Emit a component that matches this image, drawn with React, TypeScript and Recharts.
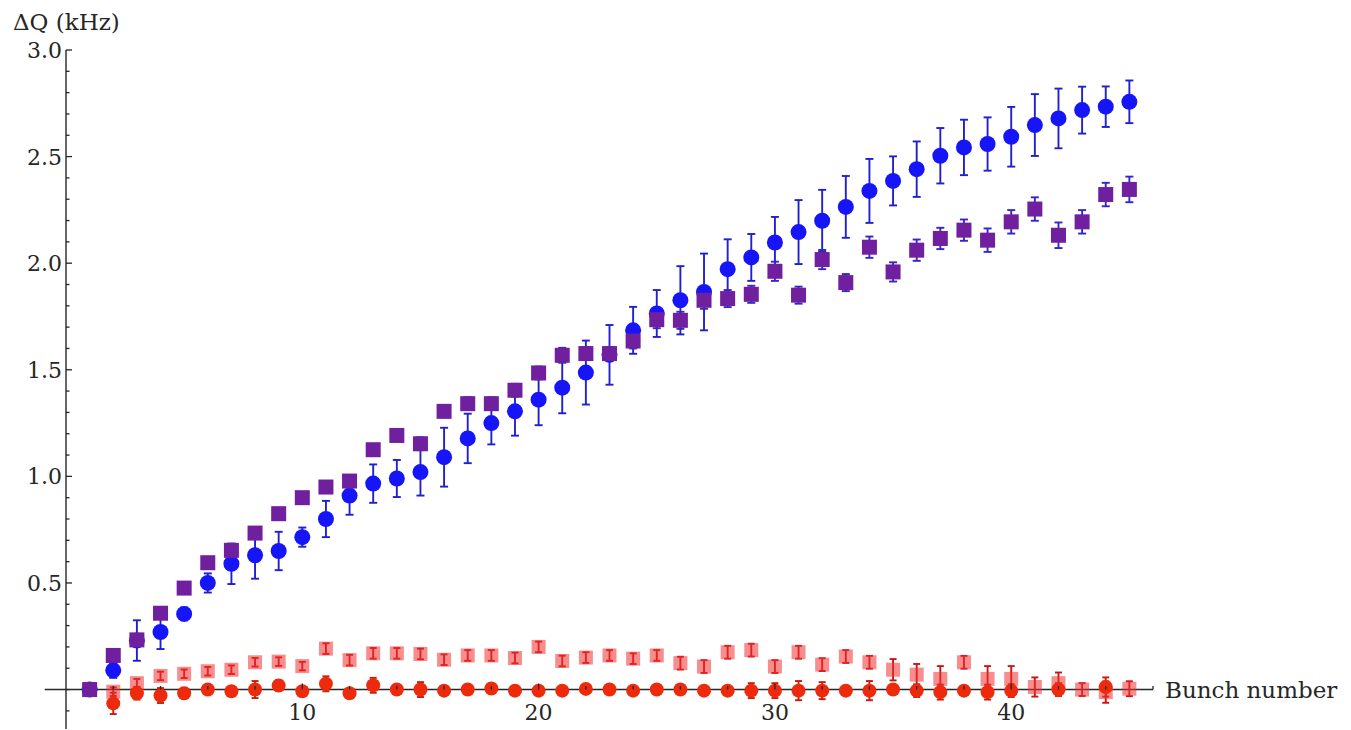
import { ScatterChart, Scatter, XAxis, YAxis, ErrorBar, ReferenceLine } from "recharts";

// bunch index along the train
const BUNCH = [
  1, 2, 3, 4, 5, 6, 7, 8, 9, 10, 11, 12, 13, 14, 15, 16, 17, 18, 19, 20, 21, 22, 23,
  24, 25, 26, 27, 28, 29, 30, 31, 32, 33, 34, 35, 36, 37, 38, 39, 40, 41, 42, 43, 44, 45,
];

// blue circles
const BLUE_DQ = [
  0, 0.09, 0.23, 0.27, 0.355, 0.5, 0.59, 0.63, 0.65, 0.715, 0.8, 0.91, 0.966, 0.99, 1.02,
  1.09, 1.178, 1.25, 1.305, 1.36, 1.416, 1.487, 1.57, 1.685, 1.764, 1.826, 1.865, 1.972,
  2.027, 2.097, 2.146, 2.199, 2.264, 2.339, 2.386, 2.441, 2.504, 2.543, 2.559, 2.593, 2.648,
  2.679, 2.718, 2.734, 2.757,
];
const BLUE_ERR = [
  0, 0.035, 0.095, 0.08, 0.03, 0.045, 0.095, 0.11, 0.09, 0.045, 0.085, 0.09, 0.09, 0.087,
  0.11, 0.138, 0.116, 0.1, 0.114, 0.12, 0.12, 0.15, 0.14, 0.11, 0.11, 0.16, 0.18, 0.14, 0.11,
  0.12, 0.15, 0.145, 0.145, 0.15, 0.115, 0.13, 0.13, 0.13, 0.125, 0.14, 0.145, 0.14, 0.11,
  0.095, 0.1,
];

// purple squares
const PURPLE_DQ = [
  0, 0.16, 0.233, 0.358, 0.476, 0.595, 0.653, 0.734, 0.825, 0.9, 0.95, 0.978, 1.125, 1.192,
  1.153, 1.305, 1.341, 1.341, 1.404, 1.485, 1.568, 1.576, 1.576, 1.635, 1.735, 1.732, 1.826,
  1.834, 1.854, 1.962, 1.85, 2.017, 1.909, 2.075, 1.959, 2.061, 2.116, 2.155, 2.108, 2.194,
  2.254, 2.131, 2.194, 2.322, 2.346,
];
const PURPLE_ERR = [
  0, 0.02, 0.02, 0.02, 0.02, 0.02, 0.02, 0.02, 0.02, 0.02, 0.02, 0.025, 0.025, 0.025, 0.03,
  0.025, 0.03, 0.03, 0.03, 0.03, 0.035, 0.03, 0.03, 0.035, 0.04, 0.04, 0.04, 0.04, 0.04,
  0.045, 0.04, 0.045, 0.04, 0.05, 0.045, 0.05, 0.05, 0.05, 0.055, 0.055, 0.055, 0.06, 0.055,
  0.055, 0.06,
];

// light red squares
const PINK_DQ = [
  null, -0.01, 0.03, 0.064, 0.074, 0.086, 0.093, 0.128, 0.131, 0.11, 0.192, 0.138, 0.17,
  0.17, 0.167, 0.14, 0.16, 0.16, 0.148, 0.2, 0.134, 0.15, 0.16, 0.145, 0.16, 0.124, 0.108,
  0.175, 0.185, 0.108, 0.175, 0.117, 0.155, 0.128, 0.093, 0.07, 0.05, 0.128, 0.05, 0.05,
  0.012, 0.03, 0, -0.012, 0.004,
];
const PINK_ERR = [
  0, 0.02, 0.02, 0.02, 0.02, 0.02, 0.02, 0.02, 0.02, 0.02, 0.025, 0.025, 0.025, 0.025, 0.025,
  0.025, 0.025, 0.025, 0.025, 0.025, 0.025, 0.025, 0.025, 0.025, 0.025, 0.03, 0.03, 0.03,
  0.03, 0.03, 0.03, 0.03, 0.03, 0.03, 0.05, 0.05, 0.06, 0.03, 0.06, 0.06, 0.045, 0.05, 0.03,
  0.05, 0.035,
];

// red circles
const RED_DQ = [
  null, -0.065, -0.017, -0.028, -0.017, 0, -0.008, 0, 0.019, -0.008, 0.027, -0.017, 0.02, 0,
  0, -0.005, 0, 0.005, -0.005, -0.005, -0.005, 0.003, 0, -0.005, 0, 0, -0.005, -0.005,
  -0.005, -0.005, -0.005, -0.005, -0.005, -0.005, 0, -0.005, -0.012, -0.005, -0.012, -0.005,
  null, 0, null, 0.012, null,
];
const RED_ERR = [
  0, 0.05, 0.03, 0.035, 0.025, 0.02, 0.02, 0.04, 0.025, 0.02, 0.035, 0.015, 0.035, 0.015,
  0.035, 0.015, 0.02, 0.02, 0.015, 0.015, 0.015, 0.02, 0.02, 0.02, 0.015, 0.015, 0.015,
  0.015, 0.035, 0.035, 0.045, 0.04, 0.02, 0.045, 0.02, 0.03, 0.035, 0.02, 0.035, 0.03, 0,
  0.03, 0, 0.045, 0,
];

const X_MAJOR = [10, 20, 30, 40];
const X_MINOR = [2, 4, 6, 8, 12, 14, 16, 18, 22, 24, 26, 28, 32, 34, 36, 38, 42, 44, 46];
const Y_LABELS = [0.5, 1, 1.5, 2, 2.5, 3];
const Y_MINOR = [
  -0.1, 0, 0.1, 0.2, 0.3, 0.4, 0.6, 0.7, 0.8, 0.9, 1.1, 1.2, 1.3, 1.4, 1.6, 1.7, 1.8, 1.9,
  2.1, 2.2, 2.3, 2.4, 2.6, 2.7, 2.8, 2.9,
];

const W = 1351;
const H = 730;
const MARGIN = { top: 50, right: 198, bottom: 0, left: 0 };
const XAXIS_H = 1;
const X_MIN = 0;
const X_MAX = 46;
const Y_MIN = -0.185;
const Y_MAX = 3;
const PLOT_H = H - MARGIN.top - MARGIN.bottom - XAXIS_H;
const ZERO_Y = MARGIN.top + (PLOT_H * Y_MAX) / (Y_MAX - Y_MIN);

const FONT = "'DejaVu Serif', serif";
const INK = "#262626";

function toPoints(values: (number | null)[], errs: number[]) {
  return BUNCH.map((x, i) => ({ x, y: values[i], err: errs[i] })).filter((p) => p.y !== null);
}

const blue = toPoints(BLUE_DQ, BLUE_ERR);
const purple = toPoints(PURPLE_DQ, PURPLE_ERR);
const pink = toPoints(PINK_DQ, PINK_ERR);
const red = toPoints(RED_DQ, RED_ERR);

// x ticks sit on the y=0 line, pointing up, like the original plot
function XTick({ x, payload }: any) {
  const major = X_MAJOR.includes(payload.value);
  return (
    <g>
      <line x1={x} x2={x} y1={ZERO_Y} y2={ZERO_Y - (major ? 6 : 3.5)} stroke={INK} strokeWidth={1.3} />
      {major && (
        <text x={x} y={ZERO_Y + 30} textAnchor="middle" fontFamily={FONT} fontSize={22} fill={INK}>
          {payload.value}
        </text>
      )}
    </g>
  );
}

function YTick({ x, y, payload }: any) {
  const v = payload.value;
  const major = Y_LABELS.includes(v);
  return (
    <g>
      <line x1={x} x2={x + (major ? 6 : 3.5)} y1={y} y2={y} stroke={INK} strokeWidth={1.3} />
      {major && (
        <text x={x - 4} y={y + 8} textAnchor="end" fontFamily={FONT} fontSize={22} fill={INK}>
          {v.toFixed(1)}
        </text>
      )}
    </g>
  );
}

const circle = (r: number, fill: string) => (p: any) => <circle cx={p.cx} cy={p.cy} r={r} fill={fill} />;
const square = (s: number, fill: string, opacity = 1) => (p: any) => (
  <rect x={p.cx - s / 2} y={p.cy - s / 2} width={s} height={s} fill={fill} fillOpacity={opacity} />
);

export default function App() {
  return (
    <div style={{ position: "absolute", left: 0, top: 0, width: W, height: H, overflow: "hidden", background: "#fff" }}>
      <ScatterChart width={W} height={H} margin={MARGIN}>
        <XAxis
          type="number"
          dataKey="x"
          domain={[X_MIN, X_MAX]}
          ticks={[...X_MINOR, ...X_MAJOR].sort((a, b) => a - b)}
          interval={0}
          height={XAXIS_H}
          axisLine={false}
          tickLine={false}
          tickSize={0}
          tickMargin={0}
          tick={(p: any) => <XTick {...p} />}
          allowDataOverflow
        />
        <YAxis
          type="number"
          dataKey="y"
          domain={[Y_MIN, Y_MAX]}
          ticks={[...Y_MINOR, ...Y_LABELS].sort((a, b) => a - b)}
          interval={0}
          width={66}
          axisLine={{ stroke: INK, strokeWidth: 1.4 }}
          tickLine={false}
          tickSize={0}
          tickMargin={0}
          tick={(p: any) => <YTick {...p} />}
          allowDataOverflow
          label={{
            content: ({ viewBox }: any) => (
              <text x={viewBox.x + 13} y={viewBox.y - 20} fontFamily={FONT} fontSize={23} fill={INK}>
                ΔQ (kHz)
              </text>
            ),
          }}
        />
        <ReferenceLine
          segment={[{ x: -0.9, y: 0 }, { x: X_MAX, y: 0 }]}
          stroke={INK}
          strokeWidth={1.5}
          ifOverflow="visible"
          label={{ value: "Bunch number", position: "right", offset: 12, fill: INK, fontSize: 23, fontFamily: FONT }}
        />
        <Scatter data={pink} shape={square(14, "#f03030", 0.55)} isAnimationActive={false}>
          <ErrorBar dataKey="err" direction="y" width={3.5} stroke="#cc1414" strokeWidth={1.9} isAnimationActive={false} />
        </Scatter>
        <Scatter data={red} shape={circle(7, "#ee2a0c")} isAnimationActive={false}>
          <ErrorBar dataKey="err" direction="y" width={3.5} stroke="#cc1a0a" strokeWidth={1.9} isAnimationActive={false} />
        </Scatter>
        <Scatter data={blue} shape={circle(8, "#1515f8")} isAnimationActive={false}>
          <ErrorBar dataKey="err" direction="y" width={4} stroke="#2020d0" strokeWidth={1.9} isAnimationActive={false} />
        </Scatter>
        <Scatter data={purple} shape={square(15, "#701f9e")} isAnimationActive={false}>
          <ErrorBar dataKey="err" direction="y" width={4} stroke="#3326cc" strokeWidth={1.9} isAnimationActive={false} />
        </Scatter>
      </ScatterChart>
    </div>
  );
}
